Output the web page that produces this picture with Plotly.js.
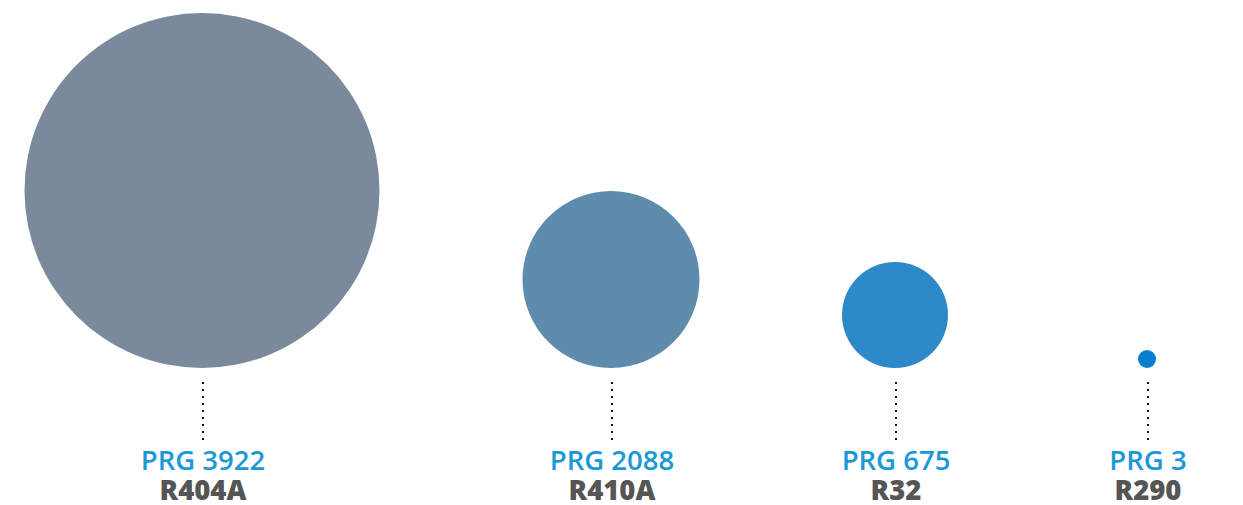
<!DOCTYPE html>
<html>
<head>
<meta charset="utf-8">
<script src="https://cdn.plot.ly/plotly-3.0.1.min.js"></script>
<style>html,body{margin:0;padding:0;background:#fff;}#chart{width:1243px;height:505px;}</style>
</head>
<body>
<div id="chart"></div>
<script>
// Data
const refrigerants = ["R404A", "R410A", "R32", "R290"];
const prgValues = [3922, 2088, 675, 3];
const bubbleDiameter = [355, 177, 106, 18];
const slotCenter = [202, 611, 895, 1147];
const bubbleColors = ["#7a8a9c", "#5e8cad", "#2e89c9", "#0a7fcf"];

const baseLine = 368;
const bubbleY = bubbleDiameter.map(d => baseLine - d / 2);

const traces = [];
traces.push({
  type: "scatter", mode: "markers",
  x: slotCenter, y: bubbleY,
  marker: {size: bubbleDiameter, sizemode: "diameter", color: bubbleColors, opacity: 1, line: {width: 0}},
  hoverinfo: "skip", showlegend: false
});
slotCenter.forEach((cx) => {
  traces.push({
    type: "scatter", mode: "lines",
    x: [cx + 1, cx + 1], y: [382, 440],
    line: {color: "#111", width: 2, dash: "2px,5px"},
    hoverinfo: "skip", showlegend: false
  });
});
traces.push({
  type: "scatter", mode: "text",
  x: slotCenter.map(c => c + 1), y: prgValues.map(() => 463),
  text: prgValues.map(v => "PRG " + v),
  textposition: "middle center",
  textfont: {family: "Open Sans", size: 27.5, color: "#1b99d6", weight: 600},
  hoverinfo: "skip", showlegend: false
});
traces.push({
  type: "scatter", mode: "text",
  x: slotCenter.map(c => c + 1), y: refrigerants.map(() => 493),
  text: refrigerants,
  textposition: "middle center",
  textfont: {family: "Open Sans", size: 27.5, color: "#555555", weight: 800},
  hoverinfo: "skip", showlegend: false
});

const layout = {
  width: 1243, height: 505,
  margin: {l: 0, r: 0, t: 0, b: 0, pad: 0},
  paper_bgcolor: "#ffffff", plot_bgcolor: "#ffffff",
  xaxis: {range: [0, 1243], visible: false, fixedrange: true},
  yaxis: {range: [505, 0], visible: false, fixedrange: true},
  showlegend: false
};
Plotly.newPlot("chart", traces, layout, {displayModeBar: false, staticPlot: true});
</script>
</body>
</html>
